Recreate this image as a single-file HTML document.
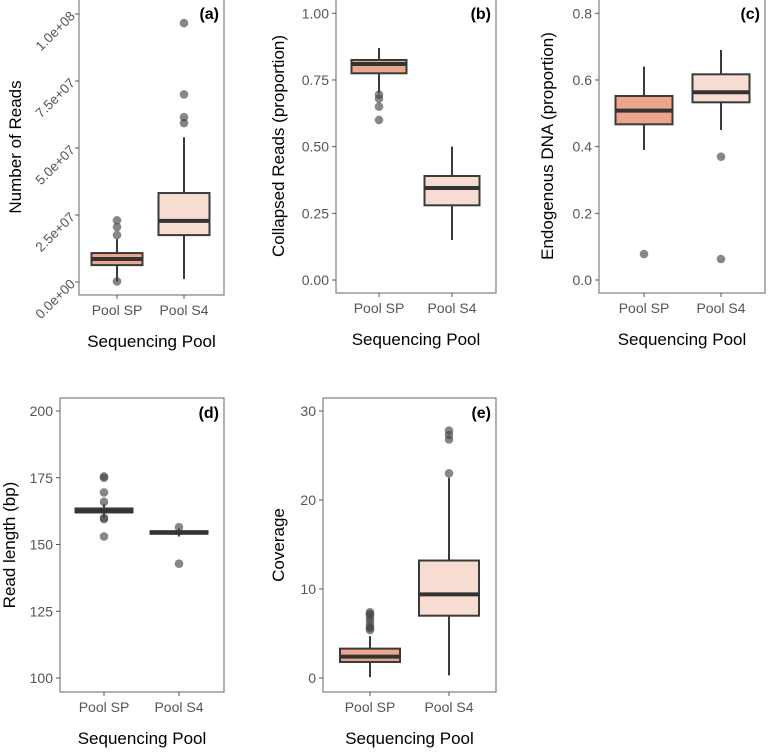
<!DOCTYPE html>
<html><head><meta charset="utf-8"><style>
body{margin:0;background:#fff;width:768px;height:748px;overflow:hidden}
svg{font-family:"Liberation Sans",Arial,sans-serif}
</style></head><body>
<svg id="fig" width="768" height="748" viewBox="0 0 768 748"></svg>
<script>
const categories=["Pool SP","Pool S4"];
// panel a
const aTicks=[0,25e6,50e6,75e6,100e6];
const aTickLabels=["0.0e+00","2.5e+07","5.0e+07","7.5e+07","1.0e+08"];
const aStats=[[0.2e6,6.3e6,8.6e6,10.8e6,16e6],[1.1e6,17.5e6,22.8e6,33.2e6,54e6]];
const aOut=[[0.2e6,17.5e6,20.5e6,23e6],[96.6e6,70e6,61.5e6,59.3e6]];
// panel b
const bTicks=[0,0.25,0.5,0.75,1.0];
const bTickLabels=["0.00","0.25","0.50","0.75","1.00"];
const bStats=[[0.70,0.775,0.81,0.825,0.87],[0.15,0.28,0.345,0.39,0.50]];
const bOut=[[0.695,0.68,0.65,0.60],[]];
// panel c
const cTicks=[0,0.2,0.4,0.6,0.8];
const cTickLabels=["0.0","0.2","0.4","0.6","0.8"];
const cStats=[[0.39,0.467,0.508,0.552,0.64],[0.45,0.533,0.563,0.617,0.69]];
const cOut=[[0.078],[0.37,0.063]];
// panel d
const dTicks=[100,125,150,175,200];
const dTickLabels=["100","125","150","175","200"];
const dStats=[[160,162,162.5,163.5,165],[153,154,154.5,155,156]];
const dOut=[[175.5,175,169.5,166,160,159.5,153],[156.5,142.8]];
// panel e
const eTicks=[0,10,20,30];
const eTickLabels=["0","10","20","30"];
const eStats=[[0.1,1.8,2.4,3.3,4.7],[0.3,7.0,9.4,13.2,22.5]];
const eOut=[[7.4,7.2,7.0,6.6,6.2,5.8,5.6,5.4],[27.8,27.3,26.8,23]];

const fills=["#EBA68B","#F7DDD1"];
const NS="http://www.w3.org/2000/svg";
const svg=document.getElementById('fig');
function el(tag,attrs,parent,text){const e=document.createElementNS(NS,tag);for(const k in attrs)e.setAttribute(k,attrs[k]);if(text!==undefined)e.textContent=text;(parent||svg).appendChild(e);return e;}

function panel(cfg){
  const g=el('g',{});
  
  
  const y=v=>cfg.y0px+(v-cfg.v0)/(cfg.v1-cfg.v0)*(cfg.y1px-cfg.y0px);
  const fr=el('rect',{x:cfg.L,y:cfg.T,width:cfg.R-cfg.L,height:cfg.B-cfg.T,fill:'#fff',stroke:'#7f7f7f','stroke-width':1.2},g);
  
  
  cfg.ticks.forEach((t,i)=>{
    const yy=y(t);
    el('line',{x1:cfg.L-4,x2:cfg.L,y1:yy,y2:yy,stroke:'#555','stroke-width':1},g);
    let tx;
    if(cfg.rot){
      tx=el('text',{x:cfg.L-6,y:yy+4,'font-size':13.5,fill:'#555','text-anchor':'end',transform:`rotate(-45 ${cfg.L-6} ${yy})`},g,cfg.labels[i]);
    } else {
      tx=el('text',{x:cfg.L-7,y:yy+5,'font-size':14,fill:'#555','text-anchor':'end'},g,cfg.labels[i]);
    }
    
    
  });
  categories.forEach((c,i)=>{
    const cx=cfg.cx[i];
    el('line',{x1:cx,x2:cx,y1:cfg.B,y2:cfg.B+4,stroke:'#555','stroke-width':1},g);
    const t=el('text',{x:cx,y:cfg.B+20,'font-size':14,fill:'#555','text-anchor':'middle'},g,c);
    
    
    const s=cfg.stats[i],hw=cfg.hw;
    const bg=el('g',{},g);
    
    
    el('line',{x1:cx,x2:cx,y1:y(s[0]),y2:y(s[4]),stroke:'#3a3a3a','stroke-width':2},bg);
    el('rect',{x:cx-hw,y:y(s[3]),width:2*hw,height:Math.max(0.5,y(s[1])-y(s[3])),fill:fills[i],stroke:'#3a3a3a','stroke-width':2},bg);
    el('line',{x1:cx-hw,x2:cx+hw,y1:y(s[2]),y2:y(s[2]),stroke:'#333','stroke-width':4},bg);
    cfg.out[i].forEach(v=>{
      const p=el('circle',{cx:cx,cy:y(v),r:4.3,fill:'rgba(70,70,70,0.65)'},g);
      
      
    });
  });
  const lab=el('text',{x:cfg.R-5,y:cfg.T+20,'font-size':16,'font-weight':'bold','text-anchor':'end',fill:'#000'},g,'('+cfg.id+')');
  
  
  const xt=el('text',{x:(cfg.L+cfg.R)/2,y:cfg.B+52,'font-size':17,'text-anchor':'middle',fill:'#000'},g,'Sequencing Pool');
  
  
  const my=(cfg.T+cfg.B)/2;
  const yt=el('text',{x:cfg.ytx,y:my,'font-size':17,'text-anchor':'middle',fill:'#000',transform:`rotate(-90 ${cfg.ytx} ${my})`},g,cfg.ytitle);
  
  
}
panel({id:'a',L:79,R:224,T:-1,B:295,y0px:282,y1px:14,v0:0,v1:100e6,ticks:aTicks,labels:aTickLabels,rot:true,cx:[117,184],hw:25.5,stats:aStats,out:aOut,ytitle:'Number of Reads',ytx:21});
panel({id:'b',L:336,R:496,T:-1,B:293,y0px:280,y1px:13.3,v0:0,v1:1,ticks:bTicks,labels:bTickLabels,cx:[379,452],hw:27.5,stats:bStats,out:bOut,ytitle:'Collapsed Reads (proportion)',ytx:284});
panel({id:'c',L:599,R:765,T:-1,B:293,y0px:280,y1px:13.3,v0:0,v1:0.8,ticks:cTicks,labels:cTickLabels,cx:[644,721],hw:28.5,stats:cStats,out:cOut,ytitle:'Endogenous DNA (proportion)',ytx:553});
panel({id:'d',L:60,R:224,T:398,B:692,y0px:678,y1px:411,v0:100,v1:200,ticks:dTicks,labels:dTickLabels,cx:[104,179],hw:28.5,stats:dStats,out:dOut,ytitle:'Read length (bp)',ytx:15});
panel({id:'e',L:323,R:496,T:398,B:692,y0px:678,y1px:411,v0:0,v1:30,ticks:eTicks,labels:eTickLabels,cx:[370,449],hw:30,stats:eStats,out:eOut,ytitle:'Coverage',ytx:284});
</script>
</body></html>
